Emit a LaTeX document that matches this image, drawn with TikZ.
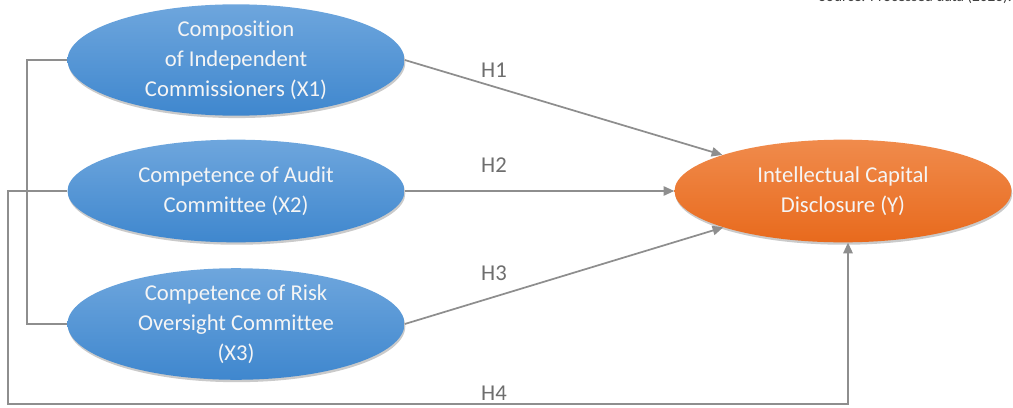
\documentclass[tikz,border=0pt]{standalone}
\usepackage{fontspec}
\setmainfont{Carlito}[Ligatures=NoCommon]
\usetikzlibrary{arrows.meta,shadows,shapes.geometric}
\definecolor{lineg}{HTML}{8E8E8E}
\definecolor{btop}{HTML}{6EA6DD}
\definecolor{bbot}{HTML}{3F87CE}
\definecolor{otop}{HTML}{F08B4C}
\definecolor{obot}{HTML}{E86A1D}
\definecolor{txtg}{HTML}{6E6E6E}
\tikzset{
  var/.style={ellipse, minimum width=252.75pt, minimum height=77pt, inner sep=0pt,
    top color=btop, bottom color=bbot, text=white!96!black, align=center,
    font=\fontsize{17}{22.5}\selectfont,
    drop shadow={shadow xshift=0.6pt, shadow yshift=-1.8pt, opacity=0.35, fill=black!60}},
  dep/.style={var, top color=otop, bottom color=obot},
  conn/.style={draw=lineg, line width=1.3pt},
  arr/.style={conn, -{Triangle[length=8pt,width=7pt]}},
  hlab/.style={text=txtg, font=\fontsize{17}{20}\selectfont},
}
\begin{document}
\begin{tikzpicture}[x=0.75pt,y=-0.75pt]
\useasboundingbox (0,0) rectangle (1013,407);
\node[var] (x1) at (236,60) {Composition\\of Independent\\Commissioners (X1)};
\node[var] (x2) at (236,191) {Competence of Audit\\Committee (X2)};
\node[var] (x3) at (236,324) {Competence of Risk\\Oversight Committee\\(X3)};
\node[dep] (y) at (843,191) {Intellectual Capital\\Disclosure (Y)};
\node[anchor=south east, inner sep=0pt, text=black!75, font=\fontsize{11.5}{12}\selectfont] (src) at (1012,4) {Source: Processed data (2023).};
\coordinate (b1) at (27,60);
\coordinate (b2) at (27,324);
\coordinate (c1) at (8,191);
\coordinate (c2) at (8,404);
\coordinate (c3) at (848,404);
\draw[conn] (x1.west) -- (b1) -- (b2) -- (x3.west);
\draw[arr] (x2.west) -- (c1) -- (c2) -- (c3) -- (y.south -| c3);
\draw[arr] (x1.east) -- (y);
\draw[arr] (x2.east) -- (y.west);
\draw[arr] (x3.east) -- (y);
\node[hlab] (h1) at (494,70) {H1};
\node[hlab] (h2) at (494,165) {H2};
\node[hlab] (h3) at (494,273) {H3};
\node[hlab] (h4) at (494,393) {H4};
\end{tikzpicture}
\end{document}
